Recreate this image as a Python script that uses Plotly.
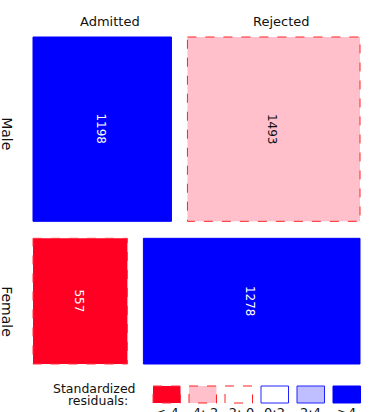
import numpy as np
import plotly.graph_objects as go

# ---- data ----
genders = ["Male", "Female"]
admits = ["Admitted", "Rejected"]
counts = [[1198, 1493],
          [557, 1278]]
legend_labels = ["<-4", "-4:-2", "-2:-0", "0:2", "2:4", ">4"]

# ---- styles ----
FILL = {"<-4": "#FF0022", "-4:-2": "#FFC0CB", "-2:-0": "#FFFFFF",
        "0:2": "#FFFFFF", "2:4": "#BFBFFF", ">4": "#0000FF"}
LINE = {"<-4": ("#FF3344", "dash"), "-4:-2": ("#FF2222", "dash"),
        "-2:-0": ("#FF2222", "dash"), "0:2": ("#2222FF", "solid"),
        "2:4": ("#2222FF", "solid"), ">4": ("#0000FF", "solid")}
TXT = {"<-4": "white", "-4:-2": "#111111", "-2:-0": "#111111",
       "0:2": "#111111", "2:4": "#111111", ">4": "white"}
FONT = "DejaVu Sans"

X0, X1, Y0, Y1 = 33, 360, 37, 364
GAPX, GAPY = 16, 17

obs = np.array(counts, dtype=float)
N = obs.sum()
rt = obs.sum(axis=1)
ct = obs.sum(axis=0)
exp = np.outer(rt, ct) / N
resid = (obs - exp) / np.sqrt(exp)


def klass(r):
    if r < -4: return "<-4"
    if r < -2: return "-4:-2"
    if r < 0: return "-2:-0"
    if r < 2: return "0:2"
    if r < 4: return "2:4"
    return ">4"


fig = go.Figure()
shapes, ann = [], []

availH = (Y1 - Y0) - GAPY * (len(genders) - 1)
availW = (X1 - X0) - GAPX * (len(admits) - 1)
row_off = [4, 10]
y = Y0
for i, g in enumerate(genders):
    h = availH * rt[i] / N
    x = X0
    for j, a in enumerate(admits):
        w = availW * obs[i, j] / rt[i]
        k = klass(resid[i, j])
        col, dash = LINE[k]
        shapes.append(dict(type="rect", xref="x", yref="y", x0=x, x1=x + w,
                           y0=y, y1=y + h, fillcolor=FILL[k],
                           line=dict(color=col, width=1, dash=dash),
                           layer="below"))
        ann.append(dict(x=x + w / 2 - 1.5, y=y + h / 2, text=str(counts[i][j]),
                        showarrow=False, textangle=90, xref="x", yref="y",
                        font=dict(family=FONT, size=12, color=TXT[k])))
        if i == 0:
            ann.append(dict(x=x + w / 2 + 8, y=21, text=a, showarrow=False,
                            xref="x", yref="y",
                            font=dict(family=FONT, size=13, color="#111111")))
        x += w + GAPX
    ann.append(dict(x=7, y=y + h / 2 + row_off[i], text=g, showarrow=False,
                    textangle=90, xref="x", yref="y",
                    font=dict(family=FONT, size=14, color="#111111")))
    y += h + GAPY

# legend
ann.append(dict(x=94, y=388.5, text="Standardized", showarrow=False, xref="x",
                yref="y", font=dict(family=FONT, size=12.5, color="#111111")))
ann.append(dict(x=98, y=400.5, text="residuals:", showarrow=False, xref="x",
                yref="y", font=dict(family=FONT, size=12.5, color="#111111")))
LX0, LSTEP, LW, LY0, LY1 = 153, 36, 27.5, 386, 403
for n, k in enumerate(legend_labels):
    col, dash = LINE[k]
    lx = LX0 + n * LSTEP
    shapes.append(dict(type="rect", xref="x", yref="y", x0=lx, x1=lx + LW,
                       y0=LY0, y1=LY1, fillcolor=FILL[k],
                       line=dict(color=col, width=1, dash=dash)))
    ann.append(dict(x=lx + LW / 2, y=403, yanchor="top", text=k,
                    showarrow=False, xref="x", yref="y",
                    font=dict(family=FONT, size=13, color="#111111")))

fig.update_layout(
    width=370, height=412, margin=dict(l=0, r=0, t=0, b=0),
    paper_bgcolor="white", plot_bgcolor="white", showlegend=False,
    xaxis=dict(range=[0, 370], visible=False, fixedrange=True),
    yaxis=dict(range=[412, 0], visible=False, fixedrange=True),
    shapes=shapes, annotations=ann,
)
fig.write_html("out.html")
